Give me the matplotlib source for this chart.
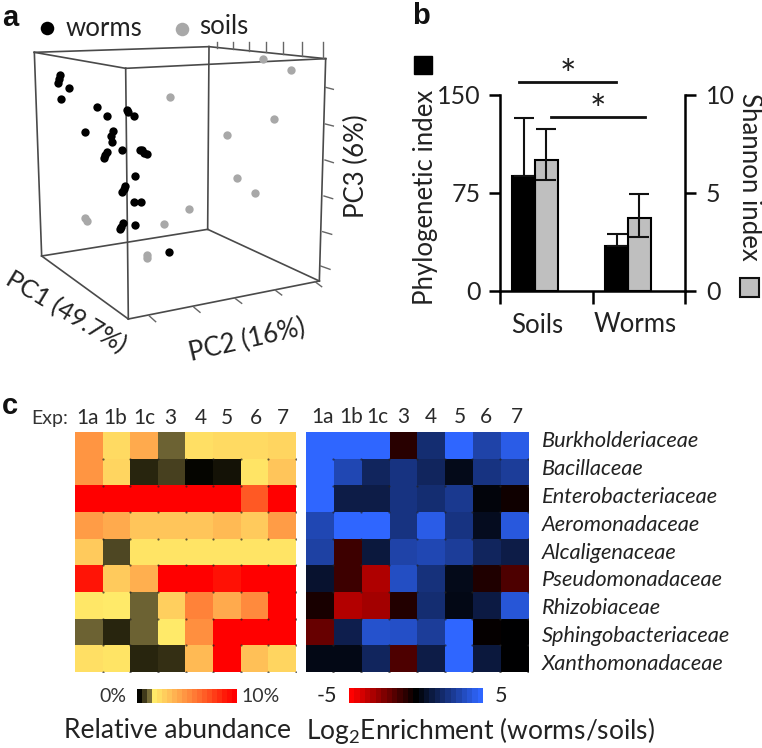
import matplotlib
matplotlib.use("Agg")
import matplotlib.pyplot as plt
import numpy as np
from matplotlib.colors import LinearSegmentedColormap

W, H = 762, 748
TEXT = "#222222"
plt.rcParams["font.family"] = ["Lato", "DejaVu Sans"]
plt.rcParams["mathtext.default"] = "regular"

# panel a, projected positions
worms_x = [180, 178, 175, 207, 183, 291, 320, 380, 384, 402, 254, 338, 333, 335, 365, 320, 316, 311,
           420, 427, 432, 442, 405, 375, 371, 367, 403, 423, 370, 364, 360, 404, 508]
worms_y = [225, 237, 248, 264, 296, 320, 349, 331, 335, 347, 397, 393, 408, 425, 449, 456, 464, 474,
           450, 450, 458, 462, 528, 558, 567, 577, 607, 606, 670, 680, 688, 675, 755]
soils_x = [788, 872, 510, 822, 680, 712, 765, 566, 493, 255, 262, 440, 440]
soils_y = [177, 210, 290, 357, 404, 533, 578, 627, 671, 654, 663, 765, 775]
box_corners = {"tl": (103, 157), "tf": (377, 205), "tr": (977, 176), "tb": (627, 140),
               "bl": (125, 768), "bf": (385, 957), "br": (958, 843), "bb": (623, 688)}
box_edges = [("tl", "tf"), ("tf", "tr"), ("tr", "tb"), ("tb", "tl"), ("bl", "bf"), ("bf", "br"),
             ("br", "bb"), ("bb", "bl"), ("tl", "bl"), ("tf", "bf"), ("tr", "br"), ("tb", "bb")]
top_ticks = [(652, 145, 652, 125), (700, 148, 700, 125), (748, 152, 748, 125), (798, 157, 798, 125),
             (848, 161, 848, 125), (906, 167, 906, 125), (968, 174, 968, 125)]
right_ticks = [(977, 262, 1000, 268), (976, 372, 1000, 378), (975, 480, 1000, 488),
               (972, 588, 998, 596), (968, 695, 995, 703), (962, 798, 990, 808)]
bottom_ticks = [(447, 947, 467, 965), (582, 922, 600, 937), (705, 895, 725, 910),
                (825, 870, 845, 885), (945, 845, 965, 860)]

# panel b
groups = ["Soils", "Worms"]
phylo_mean = [88, 34.5]
phylo_err = [44.5, 9]
shannon_mean = [6.68, 3.74]
shannon_err_up = [1.6, 1.2]
shannon_err_down = [1.0, 1.0]

# panel c
exp_labels = ["1a", "1b", "1c", "3", "4", "5", "6", "7"]
families = ["Burkholderiaceae", "Bacillaceae", "Enterobacteriaceae", "Aeromonadaceae", "Alcaligenaceae",
            "Pseudomonadaceae", "Rhizobiaceae", "Sphingobacteriaceae", "Xanthomonadaceae"]
abundance = [
    [4.8, 2.2, 4.0, 1.0, 2.0, 2.2, 2.2, 2.4],
    [4.8, 2.4, 0.3, 0.6, 0.0, 0.15, 1.8, 3.0],
    [10, 10, 10, 10, 10, 10, 7.0, 10],
    [4.5, 4.0, 3.0, 3.0, 3.0, 3.4, 2.8, 4.5],
    [2.8, 0.7, 1.8, 1.8, 1.8, 1.8, 1.8, 1.8],
    [9.2, 2.8, 3.8, 10, 10, 9.3, 10, 10],
    [1.7, 1.6, 1.0, 2.6, 5.5, 4.0, 5.2, 10],
    [1.0, 0.3, 1.0, 1.6, 5.0, 10, 10, 10],
    [2.0, 1.8, 0.3, 0.4, 3.4, 10, 3.2, 2.4],
]
enrichment = [
    [5, 5, 5, -0.8, 2.2, 5, 3.3, 4.5],
    [5, 3.5, 1.8, 2.5, 1.8, 0.5, 2.5, 3],
    [5, 1.4, 1.4, 2.5, 2.2, 2.8, 0.2, -0.3],
    [3.5, 5, 5, 2.5, 4.5, 2.5, 0.6, 4.3],
    [3.2, -1.2, 1.2, 3.3, 3.5, 3, 1.8, 1.4],
    [0.9, -1.2, -3.4, 3.8, 2.4, 0.5, -0.6, -1.5],
    [-0.5, -3.5, -3.2, -0.7, 2.2, 0.4, 1.3, 4.2],
    [-2, 1.5, 4.0, 3.9, 3.0, 5, -0.1, 0],
    [0.4, 0.4, 1.8, -1.5, 1.4, 5, 1.2, 0],
]

abund_cmap = LinearSegmentedColormap.from_list("abund", [
    (0, "#050500"), (0.03, "#2c2810"), (0.1, "#6e6435"), (0.13, "#fff06e"), (0.18, "#ffe566"),
    (0.3, "#ffc55a"), (0.5, "#ff9040"), (0.7, "#ff5a25"), (0.9, "#ff1a08"), (1, "#ff0000")])
enrich_cmap = LinearSegmentedColormap.from_list("enrich", ["#ff0000", "#000000", "#2f66ff"])


def px_axes(fig, x0, y0, x1, y1):
    return fig.add_axes([x0 / W, 1 - y1 / H, (x1 - x0) / W, (y1 - y0) / H])


def draw_heat(fig, box, data, cmap, vmin, vmax):
    ax = px_axes(fig, *box)
    ax.imshow(data, cmap=cmap, vmin=vmin, vmax=vmax, aspect="auto", interpolation="nearest")
    xx, yy = np.meshgrid(np.arange(0.5, 8, 1), np.arange(0.5, 9, 1))
    ax.scatter(xx.ravel(), yy.ravel(), s=2.5, c="#222222", alpha=0.7, linewidths=0)
    ax.set_xlim(-0.5, 7.5)
    ax.set_ylim(8.5, -0.5)
    ax.axis("off")
    return ax


def draw_scale(fig, box, cmap, steps):
    ax = px_axes(fig, *box)
    ax.imshow(np.linspace(0, 1, steps)[None, :], cmap=cmap, aspect="auto", interpolation="nearest")
    ax.axis("off")


fig = plt.figure(figsize=(W / 100, H / 100), dpi=100)

# panel a
ax_a = px_axes(fig, 0, 0, 400, 370)
ax_a.set_xlim(0, 1200)
ax_a.set_ylim(1110, 0)
ax_a.axis("off")
for a, b in box_edges:
    ax_a.plot(*zip(box_corners[a], box_corners[b]), color="#4a4a4a", lw=1.2, zorder=1)
for x0, y0, x1, y1 in top_ticks + right_ticks + bottom_ticks:
    ax_a.plot([x0, x1], [y0, y1], color="#666666", lw=1.0, zorder=1)
ax_a.scatter(soils_x, soils_y, s=36, c="#a8a8a8", linewidths=0, zorder=2)
ax_a.scatter(worms_x, worms_y, s=36, c="#000000", linewidths=0, zorder=3)
ax_a.scatter([140], [83], s=95, c="#000000", linewidths=0)
ax_a.scatter([545], [88], s=95, c="#a8a8a8", linewidths=0)
ax_a.text(198, 84, "worms", fontsize=18.5, color=TEXT, va="center", ha="left")
ax_a.text(598, 80, "soils", fontsize=18.5, color=TEXT, va="center", ha="left")
ax_a.text(197, 937, "PC1 (49.7%)", fontsize=18, color=TEXT, rotation=-31, ha="center", va="center",
          rotation_mode="anchor")
ax_a.text(742, 1020, "PC2 (16%)", fontsize=18.5, color=TEXT, rotation=13, ha="center", va="center",
          rotation_mode="anchor")
ax_a.text(1070, 500, "PC3 (6%)", fontsize=18.5, color=TEXT, rotation=90, ha="center", va="center")

# panel b
ax_b = px_axes(fig, 500, 95, 685, 291)
pos = np.array([0.378, 1.385])
bw = 0.245
ax_b.bar(pos - bw / 2, phylo_mean, bw, color="#000000", edgecolor="#000000", lw=1.5, zorder=2)
ax_b.errorbar(pos - bw / 2, phylo_mean, yerr=[[0, 0], phylo_err], fmt="none", ecolor="#111111",
              elinewidth=1.5, capsize=7.5, capthick=1.5, zorder=2)
ax_b.set_xlim(0, 2)
ax_b.set_ylim(0, 150)
ax_b.set_xticks([0, 1, 2])
ax_b.set_xticklabels([])
ax_b.set_yticks([0, 75, 150])
ax_b.tick_params(axis="y", length=8, width=1.8, labelsize=18, labelcolor=TEXT, pad=6)
ax_b.tick_params(axis="x", length=9, width=1.8)
for side in ["top", "right"]:
    ax_b.spines[side].set_visible(False)
ax_b.spines["left"].set_linewidth(1.8)
ax_b.spines["bottom"].set_linewidth(1.8)
ax_b.patch.set_alpha(0)
ax_b2 = ax_b.twinx()
ax_b2.bar(pos + bw / 2, shannon_mean, bw, color="#bfbfbf", edgecolor="#000000", lw=1.5, zorder=2)
ax_b2.errorbar(pos + bw / 2, shannon_mean, yerr=[shannon_err_down, shannon_err_up], fmt="none",
               ecolor="#111111", elinewidth=1.5, capsize=7.5, capthick=1.5, zorder=3)
ax_b2.set_ylim(0, 10)
ax_b2.set_yticks([0, 5, 10])
ax_b2.tick_params(axis="y", length=8, width=1.8, labelsize=18, labelcolor=TEXT, pad=7)
for side in ["top", "left", "bottom"]:
    ax_b2.spines[side].set_visible(False)
ax_b2.spines["right"].set_linewidth(1.8)
ax_b.set_zorder(ax_b2.get_zorder() + 1)

# panel c
ax_c1 = draw_heat(fig, (75.3, 432.3, 296, 672), abundance, abund_cmap, 0, 10)
ax_c2 = draw_heat(fig, (305.7, 432.3, 528, 672), enrichment, enrich_cmap, -5, 5)
draw_scale(fig, (136.7, 689, 235.7, 702.7), abund_cmap, 20)
draw_scale(fig, (349.3, 688, 483.3, 703), enrich_cmap, 25)

# labels in figure pixels
ax_t = px_axes(fig, 0, 0, W, H)
ax_t.set_xlim(0, W)
ax_t.set_ylim(H, 0)
ax_t.axis("off")
ax_t.patch.set_alpha(0)
for s, x, y in [("a", 2, 18), ("b", 412, 16), ("c", 2, 406)]:
    ax_t.text(x, y, s, fontsize=21, fontweight="bold", family="Liberation Sans", color="#111111",
              ha="left", va="center")

# panel b annotations
ax_t.plot([519, 616], [81.5, 81.5], color="#111111", lw=2)
ax_t.plot([551, 645], [116.5, 116.5], color="#111111", lw=2)
ax_t.text(568, 77, "*", fontsize=28, color=TEXT, ha="center", va="center")
ax_t.text(598, 112, "*", fontsize=28, color=TEXT, ha="center", va="center")
ax_t.text(425, 197, "Phylogenetic index", fontsize=18.5, color=TEXT, rotation=90, ha="center", va="center")
ax_t.text(749, 177, "Shannon index", fontsize=18.5, color=TEXT, rotation=270, ha="center", va="center")
ax_t.add_patch(plt.Rectangle((414, 56), 18, 18, fc="#000000", ec="#000000", lw=1))
ax_t.add_patch(plt.Rectangle((740, 278), 18.5, 18.5, fc="#bfbfbf", ec="#111111", lw=1.5))
ax_t.text(537, 325, groups[0], fontsize=18.5, color=TEXT, ha="center", va="center")
ax_t.text(635, 324, groups[1], fontsize=18.5, color=TEXT, ha="center", va="center")

# panel c labels
left_x = [263, 345, 432, 512, 603, 682, 768, 850]
right_x = [97, 182, 262, 341, 423, 510, 587, 682]
ax_t.text(50, 418, "Exp:", fontsize=14, color="#333333", ha="center", va="center")
for s, x0, x1 in zip(exp_labels, left_x, right_x):
    ax_t.text(x0 / 3, 418, s, fontsize=15, color="#2a2a2a", ha="center", va="center")
    ax_t.text(290 + x1 / 3, 417, s, fontsize=15, color="#2a2a2a", ha="center", va="center")
for i, name in enumerate(families):
    ax_t.text(542, 441 + i * 27.9, name, fontsize=15.7, style="italic", color="#222222", ha="left", va="center")
ax_t.text(113, 696, "0%", fontsize=14, color="#333333", ha="center", va="center")
ax_t.text(261, 696, "10%", fontsize=14, color="#333333", ha="center", va="center")
ax_t.text(327, 696, "-5", fontsize=15.5, color="#222222", ha="center", va="center")
ax_t.text(501, 696, "5", fontsize=15.5, color="#222222", ha="center", va="center")
ax_t.text(177, 730, "Relative abundance", fontsize=19, color=TEXT, ha="center", va="center")
ax_t.text(306, 730, "Log$_2$Enrichment (worms/soils)", fontsize=19, color=TEXT, ha="left", va="center")

fig.savefig("out.png", dpi=100)
